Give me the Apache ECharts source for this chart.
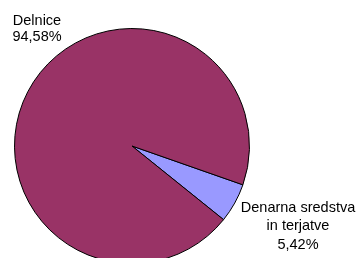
<!DOCTYPE html>
<html>
<head>
<meta charset="utf-8">
<script src="https://cdn.jsdelivr.net/npm/echarts@6/dist/echarts.min.js"></script>
<style>
  html, body { margin: 0; padding: 0; background: #fff; }
  #chart { width: 358px; height: 258px; }
</style>
</head>
<body>
<div id="chart"></div>
<script>
var names = ['Denarna sredstva\nin terjatve', 'Delnice'];
var shares = [5.42, 94.58];
var colors = ['#9999ff', '#993366'];
// label anchor points (centre of text block)
var labelPos = [[298, 226], [37, 29]];
var labelLineH = [18.5, 16];

function Set_Pie_echarts(){
    var dom = document.getElementById('chart');
    var myChart = echarts.init(dom, null, { renderer: 'canvas' });

    var data = names.map(function (n, i) {
        return {
            name: n,
            value: shares[i],
            itemStyle: { color: colors[i] },
            label: { lineHeight: labelLineH[i] }
        };
    });

    var option = {
    animation: false,
    series: [
    {
    type: 'pie',
    center: [132, 146],
    radius: 117.5,
    startAngle: -19.3,
    clockwise: true,
    itemStyle: {
        borderColor: '#000',
        borderWidth: 1
    },
    label: {
        show: true,
        position: 'outside',
        overflow: 'none',
        fontFamily: 'Liberation Sans, Arial, sans-serif',
        fontSize: 14.5,
        color: '#000',
        align: 'center',
        formatter: function (p) {
            return p.name + '\n' + p.value.toFixed(2).replace('.', ',') + '%';
        }
    },
    labelLine: { show: false },
    labelLayout: function (params) {
        var p = labelPos[params.dataIndex];
        return { x: p[0], y: p[1], align: 'center', verticalAlign: 'middle', hideOverlap: false };
    },
    emphasis: { disabled: true },
    data: data
    }
    ]
    };

    myChart.setOption(option);
    window.addEventListener('resize', myChart.resize);
}
Set_Pie_echarts();
</script>
</body>
</html>
